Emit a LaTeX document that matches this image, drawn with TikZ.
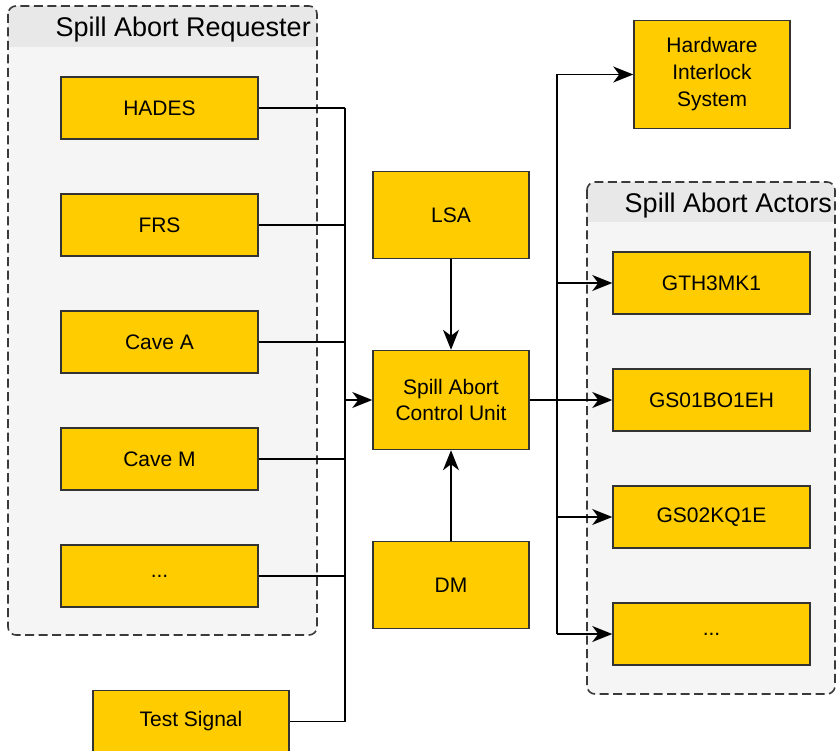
\documentclass[tikz,border=0pt]{standalone}
\usepackage{fontspec}
\setmainfont{Liberation Sans}
\usetikzlibrary{arrows.meta}
\definecolor{boxfill}{HTML}{FFCC00}
\definecolor{boxline}{HTML}{333333}
\definecolor{grpbody}{HTML}{F5F5F5}
\definecolor{grphead}{HTML}{E8E8E8}
\definecolor{grpline}{HTML}{3A3A3A}
\tikzset{
  unit/.style={draw=boxline, fill=boxfill, line width=1.5pt, inner sep=0pt,
    align=center, font=\fontsize{21}{26.5}\selectfont},
  wide/.style={unit, minimum width=197pt, minimum height=62pt},
  core/.style={unit, minimum width=156pt},
  wire/.style={line width=1.8pt, draw=black},
  feed/.style={wire, -{Stealth[length=20pt, width=16pt, inset=6pt]}},
  grptitle/.style={anchor=base east, inner sep=0pt, font=\fontsize{27}{32}\selectfont},
  grpframe/.style={draw=grpline, line width=1.6pt, dash pattern=on 9pt off 4.5pt, rounded corners=8pt}
}
\begin{document}
\begin{tikzpicture}[x=1pt, y=-1pt]
\useasboundingbox (0,0) rectangle (837,751);

% group: requesters
\fill[grpbody, rounded corners=8pt] (8,6) rectangle (317,635);
\begin{scope}
  \clip (0,0) rectangle (837,47);
  \fill[grphead, rounded corners=8pt] (8,6) rectangle (317,635);
\end{scope}
\draw[grpframe] (8,6) rectangle (317,635);
\node[grptitle] (reqtitle) at (311,36.5) {Spill Abort Requester};

% group: actors
\fill[grpbody, rounded corners=8pt] (587,182) rectangle (835,694);
\begin{scope}
  \clip (0,0) rectangle (837,222);
  \fill[grphead, rounded corners=8pt] (587,182) rectangle (835,694);
\end{scope}
\draw[grpframe] (587,182) rectangle (835,694);
\node[grptitle] (acttitle) at (832,213) {Spill Abort Actors};

% requester units
\node[wide] (hades) at (159.5,108) {HADES};
\node[wide] (frs)   at (159.5,225) {FRS};
\node[wide] (cavea) at (159.5,342) {Cave A};
\node[wide] (cavem) at (159.5,459) {Cave M};
\node[wide] (reqmore) at (159.5,576) {...};
\node[wide, minimum width=196pt] (test) at (191,721.5) {Test Signal};

% central units
\node[core, minimum height=87pt] (lsa)  at (451,215) {LSA};
\node[core, minimum height=99pt] (sacu) at (451,400) {Spill Abort\\Control Unit};
\node[core, minimum height=87pt] (dm)   at (451,585) {DM};
\node[core, minimum height=108pt, font=\fontsize{21}{27}\selectfont] (hil) at (712,74.5) {Hardware\\Interlock\\System};

% actor units
\node[wide] (gth)  at (711.5,283) {GTH3MK1};
\node[wide] (gs01) at (711.5,400) {GS01BO1EH};
\node[wide] (gs02) at (711.5,517) {GS02KQ1E};
\node[wide] (actmore) at (711.5,634) {...};

% bus lines
\coordinate (inbus) at (345,0);
\coordinate (outbus) at (557,0);

% requesters into the control unit
\foreach \n in {hades,frs,cavea,cavem,reqmore,test}
  \draw[wire] (\n.east) -- (\n.east -| inbus);
\draw[wire] (hades.east -| inbus) -- (test.east -| inbus);
\draw[feed] (sacu.west -| inbus) -- (sacu.west);

\draw[feed] (lsa.south) -- (sacu.north);
\draw[feed] (dm.north) -- (sacu.south);

% control unit out to actors and interlock
\draw[wire] (sacu.east) -- (sacu.east -| outbus);
\draw[wire] (hil.west -| outbus) -- (actmore.west -| outbus);
\foreach \n in {hil,gth,gs01,gs02,actmore}
  \draw[feed] (\n.west -| outbus) -- (\n.west);

\end{tikzpicture}
\end{document}
